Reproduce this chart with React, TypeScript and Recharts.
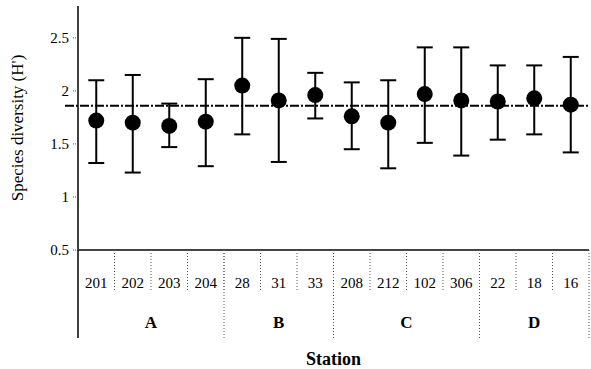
import React from 'react';
import { ComposedChart, Line, XAxis, YAxis, ErrorBar, ReferenceLine } from 'recharts';

const stations = ['201', '202', '203', '204', '28', '31', '33', '208', '212', '102', '306', '22', '18', '16'];
const groups = ['A', 'A', 'A', 'A', 'B', 'B', 'B', 'C', 'C', 'C', 'C', 'D', 'D', 'D'];
const meanH = [1.72, 1.70, 1.67, 1.71, 2.05, 1.91, 1.96, 1.76, 1.70, 1.97, 1.91, 1.90, 1.93, 1.87];
const upperH = [2.10, 2.15, 1.88, 2.11, 2.50, 2.49, 2.17, 2.08, 2.10, 2.41, 2.41, 2.24, 2.24, 2.32];
const lowerH = [1.32, 1.23, 1.47, 1.29, 1.59, 1.33, 1.74, 1.45, 1.27, 1.51, 1.39, 1.54, 1.59, 1.42];
const overallMean = 1.86;
const yTicks = [0.5, 1, 1.5, 2, 2.5];

const data = stations.map((s, i) => ({
  station: s,
  group: groups[i],
  mean: meanH[i],
  err: [meanH[i] - lowerH[i], upperH[i] - meanH[i]],
}));

const W = 591;
const H = 369;
const MARGIN = { top: 6, right: 2, bottom: 29, left: 0 };
const Y_AXIS_W = 78;
const BAND = (W - MARGIN.left - MARGIN.right - Y_AXIS_W) / stations.length;
const STATION_H = 42;
const GROUP_H = 48;
const FONT = '"Liberation Serif", "Times New Roman", serif';

const StationTick = (props: any) => {
  const { x, y, index, payload } = props;
  const left = x - BAND / 2;
  return (
    <g>
      {index === 0 ? (
        <line x1={left} y1={y} x2={left} y2={y + STATION_H} stroke="#000" strokeWidth={1.5} />
      ) : (
        <line x1={left} y1={y} x2={left} y2={y + STATION_H} stroke="#555" strokeDasharray="1 2" />
      )}
      {index === stations.length - 1 && (
        <line x1={x + BAND / 2} y1={y} x2={x + BAND / 2} y2={y + STATION_H} stroke="#555" strokeDasharray="1 2" />
      )}
      <text x={x} y={y + 38} textAnchor="middle" fontFamily={FONT} fontSize={15} fill="#000">
        {payload.value}
      </text>
    </g>
  );
};

const GroupTick = (props: any) => {
  const { x, y, index } = props;
  const isStart = index === 0 || groups[index] !== groups[index - 1];
  const isLast = index === groups.length - 1;
  let count = 0;
  if (isStart) {
    for (let j = index; j < groups.length && groups[j] === groups[index]; j++) count++;
  }
  const left = x - BAND / 2;
  return (
    <g>
      {isStart && index === 0 && (
        <line x1={left} y1={y} x2={left} y2={y + GROUP_H - 2} stroke="#000" strokeWidth={1.5} />
      )}
      {isStart && index > 0 && (
        <line x1={left} y1={y - STATION_H} x2={left} y2={y + GROUP_H - 2} stroke="#555" strokeDasharray="1 2" />
      )}
      {isLast && (
        <line x1={x + BAND / 2} y1={y} x2={x + BAND / 2} y2={y + GROUP_H - 2} stroke="#555" strokeDasharray="1 2" />
      )}
      {isStart && (
        <text
          x={x + ((count - 1) / 2) * BAND}
          y={y + 36}
          textAnchor="middle"
          fontFamily={FONT}
          fontSize={17}
          fontWeight="bold"
          fill="#000"
        >
          {groups[index]}
        </text>
      )}
    </g>
  );
};

const StationTitle = (props: any) => {
  const vb = props.viewBox || {};
  return (
    <text
      x={vb.x + vb.width / 2}
      y={vb.y + vb.height + 25}
      textAnchor="middle"
      fontFamily={FONT}
      fontSize={18}
      fontWeight="bold"
      fill="#000"
    >
      Station
    </text>
  );
};

const YTitle = (props: any) => {
  const vb = props.viewBox || {};
  const cx = vb.x + 17;
  const cy = vb.y + vb.height / 2;
  return (
    <text
      x={cx}
      y={cy}
      transform={`rotate(-90, ${cx}, ${cy})`}
      textAnchor="middle"
      dominantBaseline="central"
      fontFamily={FONT}
      fontSize={17}
      fill="#000"
    >
      Species diversity (H')
    </text>
  );
};

const MeanLine = (props: any) => {
  const { x1, y1, x2, y2 } = props;
  return (
    <line x1={x1 - 13} y1={y1} x2={x2} y2={y2} stroke="#000" strokeWidth={2} strokeDasharray="9 2 2 2" />
  );
};

export default function App() {
  return (
    <div style={{ position: 'absolute', left: 0, top: 0, background: '#fff' }}>
      <ComposedChart width={W} height={H} data={data} margin={MARGIN}>
        <YAxis
          type="number"
          domain={[0.5, 2.8]}
          ticks={yTicks}
          width={Y_AXIS_W}
          axisLine={{ stroke: '#000', strokeWidth: 1.5 }}
          tickLine={{ stroke: '#555', strokeDasharray: '1 1' }}
          tickSize={5}
          tickMargin={4}
          tick={{ fontFamily: FONT, fontSize: 15, fill: '#000' }}
          label={{ content: <YTitle /> }}
        />
        <XAxis
          dataKey="station"
          type="category"
          scale="band"
          interval={0}
          height={STATION_H}
          axisLine={{ stroke: '#444', strokeWidth: 2 }}
          tickLine={false}
          tickSize={0}
          tickMargin={0}
          tick={<StationTick />}
        />
        <XAxis
          xAxisId="grp"
          dataKey="station"
          type="category"
          scale="band"
          interval={0}
          height={GROUP_H}
          axisLine={false}
          tickLine={false}
          tickSize={0}
          tickMargin={0}
          tick={<GroupTick />}
          label={{ content: <StationTitle /> }}
        />
        <ReferenceLine y={overallMean} shape={<MeanLine />} ifOverflow="visible" />
        <Line
          dataKey="mean"
          stroke="none"
          isAnimationActive={false}
          dot={{ r: 8, fill: '#000', stroke: '#000', strokeWidth: 0 }}
          activeDot={false}
        >
          <ErrorBar dataKey="err" width={8} stroke="#000" strokeWidth={2} direction="y" />
        </Line>
      </ComposedChart>
    </div>
  );
}
